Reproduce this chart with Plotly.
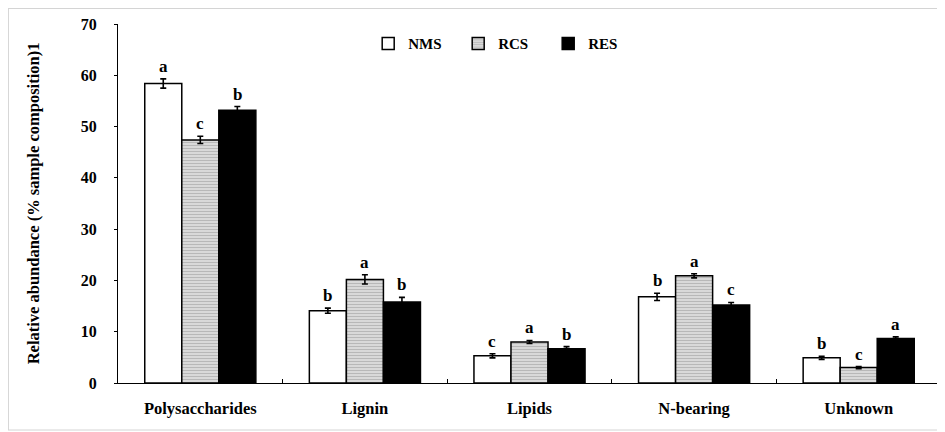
import plotly.graph_objects as go

categories = ["Polysaccharides", "Lignin", "Lipids", "N-bearing", "Unknown"]
series_names = ["NMS", "RCS", "RES"]
nms = [58.4, 14.1, 5.3, 16.8, 4.9]
rcs = [47.4, 20.2, 8.0, 20.9, 3.0]
res = [53.2, 15.8, 6.7, 15.2, 8.7]
nms_err = [0.9, 0.5, 0.4, 0.7, 0.3]
rcs_err = [0.7, 0.9, 0.3, 0.4, 0.2]
res_err = [0.7, 0.9, 0.4, 0.5, 0.3]
nms_letters = ["a", "b", "c", "b", "b"]
rcs_letters = ["c", "a", "a", "a", "c"]
res_letters = ["b", "b", "b", "c", "a"]
y_ticks = [0, 10, 20, 30, 40, 50, 60, 70]

# page body has an 8px default margin, so the figure is sized to fit the window
W, H = 937, 424
ML, MR, MT, MB = 110, 4, 16, 49
FONT = "Liberation Serif, Times New Roman, DejaVu Serif, serif"

values = [nms, rcs, res]
errors = [nms_err, rcs_err, res_err]
letters = [nms_letters, rcs_letters, res_letters]
styles = [
    dict(color="white", pattern=None),
    dict(color="white", pattern=dict(shape="-", fgcolor="#888888", bgcolor="#e8e8e8", size=3, solidity=0.55)),
    dict(color="black", pattern=None),
]

fig = go.Figure()
for name, v, e, st in zip(series_names, values, errors, styles):
    marker = dict(color=st["color"], line=dict(color="black", width=1.5))
    if st["pattern"]:
        marker["pattern"] = st["pattern"]
    fig.add_trace(go.Bar(
        name=name, x=categories, y=v, marker=marker,
        error_y=dict(type="data", array=e, visible=True, color="black", thickness=1.6, width=3),
    ))

bargap = 0.325
plot_w = W - ML - MR
plot_h = H - MT - MB
cat_w = plot_w / len(categories)
bar_w = cat_w * (1 - bargap) / 3
annotations = []
for i, (v, e, l) in enumerate(zip(values, errors, letters)):
    shift = (i - 1) * bar_w
    for c, val, err, let in zip(categories, v, e, l):
        annotations.append(dict(
            x=c, y=val + err, text=let, showarrow=False, xshift=shift,
            yanchor="bottom", yshift=1,
            font=dict(family=FONT, size=17, color="black", weight="bold"),
        ))

fig.update_layout(
    width=W, height=H,
    margin=dict(l=ML, r=MR, t=MT, b=MB, autoexpand=False),
    paper_bgcolor="white", plot_bgcolor="white",
    barmode="group", bargap=bargap, bargroupgap=0,
    font=dict(family=FONT, size=14, color="black"),
    showlegend=True,
    legend=dict(orientation="h", x=0.304, xanchor="left", y=0.945, yanchor="middle",
                font=dict(family=FONT, size=15, color="black", weight="bold"),
                bgcolor="rgba(0,0,0,0)", itemwidth=30, tracegroupgap=0, entrywidth=45),
    annotations=annotations,
    shapes=[
        dict(type="line", xref="paper", yref="paper",
             x0=-ML / plot_w + 0.0005, x1=-ML / plot_w + 0.0005,
             y0=-(H - 2 - (H - MB)) / plot_h, y1=1 + MT / plot_h,
             line=dict(color="#d4d4d4", width=1)),
        dict(type="line", xref="paper", yref="paper",
             x0=-ML / plot_w, x1=1 + MR / plot_w,
             y0=-(H - 2 - (H - MB)) / plot_h, y1=-(H - 2 - (H - MB)) / plot_h,
             line=dict(color="#d4d4d4", width=1)),
        dict(type="line", xref="paper", yref="paper",
             x0=-ML / plot_w, x1=1 + MR / plot_w,
             y0=1 + (MT - 0.5) / plot_h, y1=1 + (MT - 0.5) / plot_h,
             line=dict(color="#d4d4d4", width=1)),
    ],
)
fig.update_xaxes(
    automargin=False,
    showline=True, linecolor="black", linewidth=1.2, ticks="inside", tickson="boundaries",
    ticklen=4, tickcolor="black", showgrid=False, ticklabelstandoff=10,
    tickfont=dict(family=FONT, size=16.5, color="black", weight="bold"),
)
fig.update_yaxes(
    automargin=False,
    range=[0, 70], tickvals=y_ticks, showline=True, linecolor="black", linewidth=1.2,
    ticks="outside", ticklen=3, tickcolor="black", showgrid=False, zeroline=False,
    tickfont=dict(family=FONT, size=16, color="black", weight="bold"), ticklabelstandoff=14,
    title=dict(text="Relative abundance (% sample composition)1",
               font=dict(family=FONT, size=16.5, color="black", weight="bold"), standoff=36),
)

fig.write_html("out.html")
